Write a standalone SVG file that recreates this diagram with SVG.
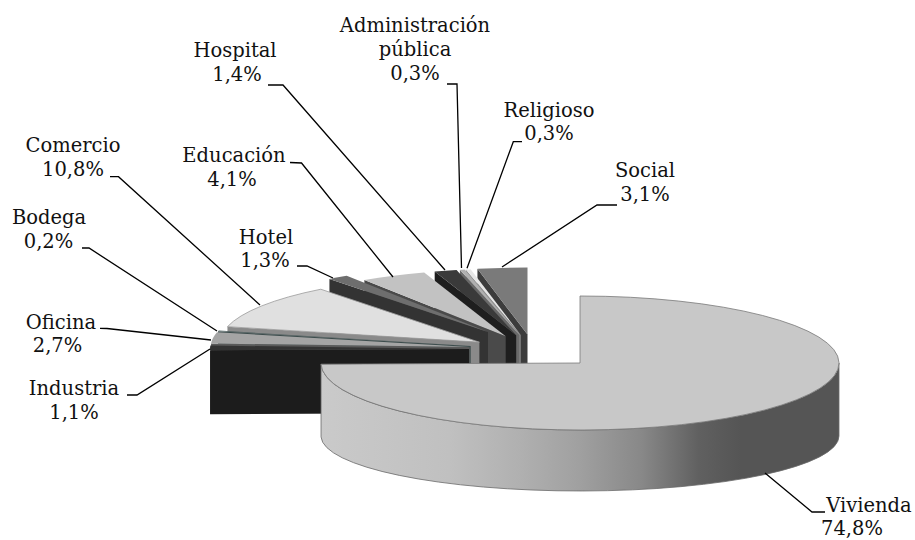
<svg xmlns="http://www.w3.org/2000/svg" width="915" height="540" viewBox="0 0 915 540">
<defs>
<linearGradient id="gradV" gradientUnits="userSpaceOnUse" x1="320" y1="0" x2="839" y2="0">
<stop offset="0" stop-color="#cacaca"/>
<stop offset="0.25" stop-color="#c0c0c0"/>
<stop offset="0.386" stop-color="#b0b0b0"/>
<stop offset="0.5" stop-color="#a0a0a0"/>
<stop offset="0.62" stop-color="#888888"/>
<stop offset="0.73" stop-color="#606060"/>
<stop offset="0.81" stop-color="#555555"/>
<stop offset="1" stop-color="#555555"/>
</linearGradient>
<style>
text{font-family:"DejaVu Serif","Liberation Serif",serif;font-size:19.5px;fill:#111;text-anchor:middle}
.ld{fill:none;stroke:#000;stroke-width:1.3}
</style>
</defs>
<rect width="915" height="540" fill="#fff"/>
<g id="social">
<path d="M527.5,334.6 L477.41,268.86 L477.41,332.86 L527.5,398.6 Z" fill="#3c3c3c"/>
<path d="M527.5,334.6 L477.41,268.86 A259 67 0 0 1 527.5,267.6 Z" fill="#7a7a7a"/>
<text x="645" y="177">Social</text><text x="645" y="201">3,1%</text>
</g>
<g id="religioso">
<path d="M520.7,334.9 L465.84,269.42 L465.84,333.42 L520.7,398.9 Z" fill="#8e8e8e"/>
<path d="M520.7,334.9 L465.84,269.42 A259 67 0 0 1 470.61,269.16 Z" fill="#e6e6e6"/>
<text x="549" y="116.5">Religioso</text><text x="549" y="139.5">0,3%</text>
</g>
<g id="administracion">
<path d="M519.5,335 L459.87,269.8 L459.87,333.8 L519.5,399 Z" fill="#6a6a6a"/>
<path d="M519.5,335 L459.87,269.8 A259 67 0 0 1 464.64,269.52 Z" fill="#b0b0b0"/>
<text x="415" y="32">Administración</text><text x="415" y="56">pública</text><text x="415" y="80">0,3%</text>
</g>
<g id="hospital">
<path d="M516.2,335.2 L434.7,271.6 L434.7,335.6 L516.2,399.2 Z" fill="#1e1e1e"/>
<path d="M516.2,335.2 L434.7,271.6 A259 67 0 0 1 456.57,270 Z" fill="#3a3a3a"/>
<text x="235" y="57">Hospital</text><text x="237" y="81">1,4%</text>
</g>
<g id="educacion">
<path d="M505.7,336.2 L364.36,280.06 L364.36,344.06 L505.7,400.2 Z" fill="#4a4a4a"/>
<path d="M505.7,336.2 L364.36,280.06 A259 67 0 0 1 424.2,272.6 Z" fill="#c2c2c2"/>
<text x="234" y="162">Educación</text><text x="232" y="186">4,1%</text>
</g>
<g id="hotel">
<path d="M488,332 L329.41,279.03 L329.41,343.03 L488,396 Z" fill="#333"/>
<path d="M488,332 L329.41,279.03 A259 67 0 0 1 346.66,275.86 Z" fill="#6e6e6e"/>
<text x="266" y="243.5">Hotel</text><text x="265" y="267">1,3%</text>
</g>
<g id="comercio">
<path d="M479.4,342.2 L227.45,326.67 L227.45,390.67 L479.4,406.2 Z" fill="#8a8a8a"/>
<path d="M479.4,342.2 L227.45,326.67 A259 67 0 0 1 320.81,289.23 Z" fill="#e0e0e0" stroke="#9a9a9a" stroke-width="0.8"/>
<text x="73" y="152">Comercio</text><text x="73" y="176">10,8%</text>
</g>
<g id="bodega">
<path d="M470.7,346 L218.02,331.29 L218.02,395.29 L470.7,410 Z" fill="#3d4d4d"/>
<path d="M470.7,346 L218.02,331.29 A259 67 0 0 1 218.75,330.47 Z" fill="#506060"/>
<text x="49" y="223.5">Bodega</text><text x="48.5" y="247.5">0,2%</text>
</g>
<g id="oficina">
<path d="M469.7,347 L211.05,343.53 L211.05,407.53 L469.7,411 Z" fill="#5a5a5a"/>
<path d="M469.7,347 L211.05,343.53 A259 67 0 0 1 217.02,332.29 Z" fill="#a4a4a4"/>
<text x="61" y="328.5">Oficina</text><text x="57.5" y="352">2,7%</text>
</g>
<g id="industria">
<path d="M469,349 L210.04,350.16 L210.04,414.16 L469,413 Z" fill="#1c1c1c"/>
<path d="M469,349 L210.04,350.16 A259 67 0 0 1 210.35,345.53 Z" fill="#333"/>
<text x="74" y="395">Industria</text><text x="74" y="418.5">1,1%</text>
</g>
<g id="vivienda">
<path d="M839,363 A259 67 0 0 1 321.04,364.16 L321.04,436.95 A259 55 0 0 0 839,436 Z" fill="url(#gradV)" stroke="#6a6a6a" stroke-width="0.8"/>
<path d="M580,363 L580,296 A259 67 0 1 1 321.04,364.16 Z" fill="#c8c8c8" stroke="#7a7a7a" stroke-width="0.8"/>
<text x="869" y="512">Vivienda</text><text x="852" y="535">74,8%</text>
</g>
<g id="connectors">
<polyline class="ld" points="825,512 812,512 765,473"/>
<polyline class="ld" points="127,395 137,395 210,349"/>
<polyline class="ld" points="100,328.3 107,328.5 211,340"/>
<polyline class="ld" points="82,248 89,248 217,331"/>
<polyline class="ld" points="110,176.7 118.5,176.7 260,305"/>
<polyline class="ld" points="297,266 307,266 333,278"/>
<polyline class="ld" points="290,162.5 301.5,163 393,277"/>
<polyline class="ld" points="268,85 283,85 445,270"/>
<polyline class="ld" points="447,84 457,84 461.5,268"/>
<polyline class="ld" points="522,141.7 513.3,141.7 467,268.3"/>
<polyline class="ld" points="617,205 597,205 502,267"/>
</g>
</svg>
